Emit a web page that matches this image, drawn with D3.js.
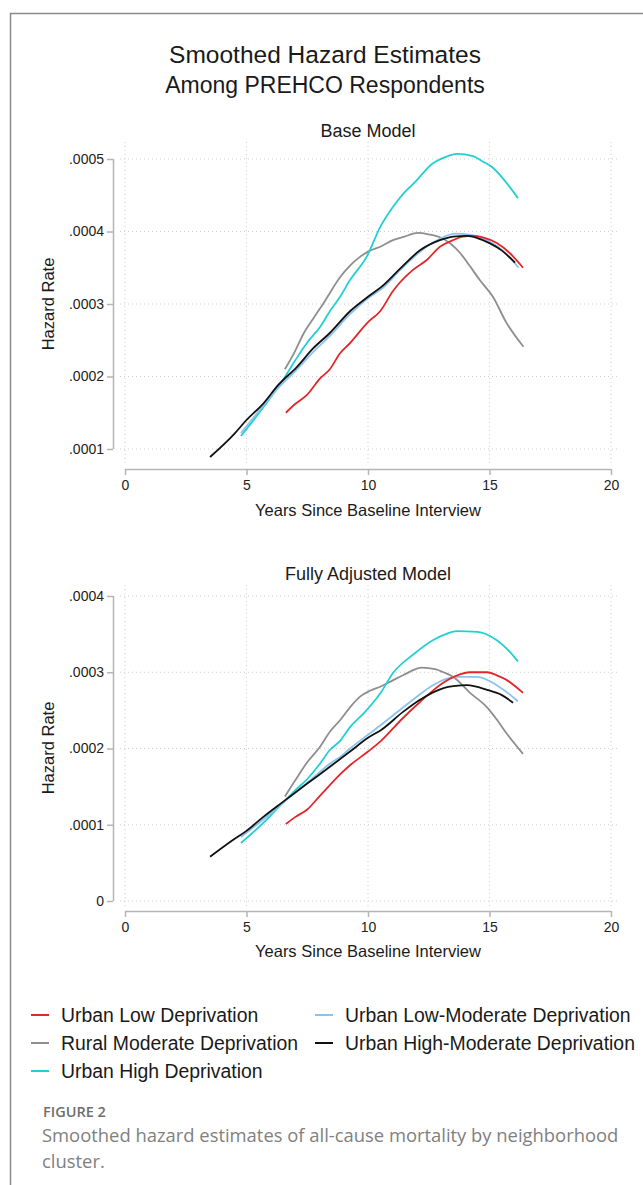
<!DOCTYPE html>
<html>
<head>
<meta charset="utf-8">
<script src="https://cdn.jsdelivr.net/npm/d3@7"></script>
<style>
html,body{margin:0;padding:0;background:#fff;}
svg{display:block;}
</style>
</head>
<body>
<script>
// ---------------- DATA ----------------
const seriesNames = ["Urban Low Deprivation","Rural Moderate Deprivation","Urban High Deprivation","Urban Low-Moderate Deprivation","Urban High-Moderate Deprivation"];
const seriesColors = ["#e3262a","#8e8e8e","#22d0d2","#8cc3ee","#111111"];
const xTicks = [0,5,10,15,20];
const yTicksBase = [0.0001,0.0002,0.0003,0.0004,0.0005];
const yTickLabelsBase = [".0001",".0002",".0003",".0004",".0005"];
const yTicksFull = [0,0.0001,0.0002,0.0003,0.0004];
const yTickLabelsFull = ["0",".0001",".0002",".0003",".0004"];

// Base model: [years, hazard]
const baseUrbanLow = [[6.62,1.50e-4],[7.0,1.62e-4],[7.5,1.75e-4],[8.02,1.97e-4],[8.43,2.10e-4],[8.85,2.32e-4],[9.26,2.46e-4],[10.0,2.75e-4],[10.5,2.90e-4],[11.03,3.18e-4],[11.85,3.47e-4],[12.43,3.61e-4],[12.96,3.79e-4],[13.5,3.88e-4],[13.9,3.93e-4],[14.3,3.94e-4],[14.73,3.92e-4],[15.3,3.84e-4],[15.84,3.70e-4],[16.38,3.50e-4]];
const baseRural = [[6.58,2.10e-4],[7.0,2.35e-4],[7.33,2.58e-4],[7.75,2.80e-4],[8.15,3.00e-4],[8.85,3.37e-4],[9.26,3.53e-4],[9.67,3.65e-4],[10.1,3.74e-4],[10.5,3.79e-4],[11.03,3.88e-4],[11.5,3.93e-4],[12.06,3.98e-4],[12.5,3.96e-4],[12.96,3.92e-4],[13.4,3.83e-4],[13.8,3.70e-4],[14.2,3.52e-4],[14.6,3.33e-4],[15.14,3.10e-4],[15.7,2.74e-4],[16.4,2.41e-4]];
const baseUrbanHigh = [[4.77,1.18e-4],[5.2,1.36e-4],[5.7,1.58e-4],[6.5,1.95e-4],[7.0,2.22e-4],[7.5,2.47e-4],[8.02,2.68e-4],[8.43,2.90e-4],[8.85,3.10e-4],[9.26,3.33e-4],[9.96,3.66e-4],[10.5,4.06e-4],[11.03,4.34e-4],[11.5,4.54e-4],[11.93,4.68e-4],[12.67,4.94e-4],[13.2,5.03e-4],[13.66,5.07e-4],[14.32,5.04e-4],[14.7,4.97e-4],[15.14,4.88e-4],[15.7,4.67e-4],[16.17,4.46e-4]];
const baseUrbanLowMod = [[4.77,1.22e-4],[5.5,1.52e-4],[6.3,1.84e-4],[7.0,2.07e-4],[7.75,2.34e-4],[8.43,2.56e-4],[9.26,2.86e-4],[10.0,3.08e-4],[10.6,3.22e-4],[11.3,3.46e-4],[12.14,3.72e-4],[12.96,3.90e-4],[13.6,3.97e-4],[14.1,3.96e-4],[14.6,3.92e-4],[15.0,3.86e-4],[15.6,3.72e-4],[16.2,3.50e-4]];
const baseUrbanHighMod = [[3.5,0.89e-4],[4.5,1.21e-4],[5.0,1.40e-4],[5.7,1.63e-4],[6.3,1.88e-4],[7.07,2.13e-4],[7.75,2.39e-4],[8.43,2.60e-4],[9.26,2.90e-4],[10.0,3.10e-4],[10.6,3.25e-4],[11.3,3.48e-4],[12.14,3.74e-4],[12.96,3.88e-4],[13.5,3.93e-4],[14.07,3.94e-4],[14.5,3.91e-4],[15.0,3.84e-4],[15.5,3.74e-4],[16.05,3.57e-4]];

// Fully adjusted model
const fullUrbanLow = [[6.62,1.01e-4],[7.0,1.10e-4],[7.5,1.20e-4],[8.02,1.38e-4],[8.43,1.52e-4],[8.85,1.66e-4],[9.26,1.78e-4],[10.0,1.96e-4],[10.5,2.09e-4],[11.44,2.40e-4],[12.14,2.61e-4],[13.08,2.86e-4],[13.6,2.95e-4],[14.2,3.00e-4],[14.9,3.00e-4],[15.3,2.96e-4],[15.7,2.90e-4],[16.38,2.73e-4]];
const fullRural = [[6.58,1.37e-4],[7.0,1.58e-4],[7.5,1.82e-4],[8.02,2.02e-4],[8.43,2.22e-4],[8.85,2.37e-4],[9.26,2.54e-4],[9.67,2.68e-4],[10.1,2.76e-4],[10.5,2.81e-4],[11.0,2.89e-4],[11.44,2.96e-4],[12.22,3.06e-4],[12.76,3.04e-4],[13.1,3.00e-4],[13.5,2.94e-4],[14.2,2.73e-4],[14.9,2.54e-4],[15.3,2.38e-4],[15.7,2.20e-4],[16.38,1.93e-4]];
const fullUrbanHigh = [[4.77,0.76e-4],[5.68,1.02e-4],[6.5,1.29e-4],[7.0,1.45e-4],[7.5,1.60e-4],[8.02,1.80e-4],[8.43,1.98e-4],[8.85,2.10e-4],[9.26,2.28e-4],[9.88,2.48e-4],[10.5,2.72e-4],[11.03,2.99e-4],[11.85,3.23e-4],[12.67,3.42e-4],[13.2,3.50e-4],[13.66,3.54e-4],[14.5,3.53e-4],[15.3,3.42e-4],[15.8,3.28e-4],[16.17,3.14e-4]];
const fullUrbanLowMod = [[4.77,0.84e-4],[5.5,1.02e-4],[6.0,1.15e-4],[6.58,1.31e-4],[7.5,1.55e-4],[8.43,1.80e-4],[8.85,1.89e-4],[9.3,2.01e-4],[10.0,2.18e-4],[10.78,2.37e-4],[11.85,2.64e-4],[12.67,2.83e-4],[13.2,2.91e-4],[13.66,2.94e-4],[14.5,2.94e-4],[15.3,2.83e-4],[16.17,2.62e-4]];
const fullUrbanHighMod = [[3.5,0.58e-4],[4.44,0.80e-4],[5.0,0.92e-4],[5.68,1.10e-4],[6.5,1.30e-4],[7.5,1.54e-4],[8.43,1.76e-4],[9.26,1.96e-4],[10.0,2.14e-4],[10.57,2.25e-4],[11.44,2.48e-4],[12.14,2.64e-4],[13.08,2.79e-4],[13.6,2.82e-4],[14.07,2.83e-4],[14.9,2.77e-4],[15.51,2.70e-4],[15.97,2.60e-4]];

const baseSeries = [baseUrbanLow, baseRural, baseUrbanHigh, baseUrbanLowMod, baseUrbanHighMod];
const fullSeries = [fullUrbanLow, fullRural, fullUrbanHigh, fullUrbanLowMod, fullUrbanHighMod];
const drawOrder = [1,2,3,0,4]; // z-order of lines

// ---------------- DRAW ----------------
const W = 643, H = 1185;
const FONT = "'Liberation Sans', Arial, sans-serif";
const svg = d3.select("body").append("svg").attr("width", W).attr("height", H)
  .style("font-family", FONT);

svg.append("rect").attr("width", W).attr("height", H).attr("fill", "#fff");
svg.append("path").attr("d", `M10.5,${H} L10.5,13.5 L${W},13.5`)
  .attr("fill", "none").attr("stroke", "#8a8a8a").attr("stroke-width", 1.5);

// main title
svg.append("text").attr("x", 325).attr("y", 63).attr("text-anchor", "middle")
  .attr("font-size", 24.5).attr("fill", "#1a1a1a").text("Smoothed Hazard Estimates");
svg.append("text").attr("x", 325).attr("y", 93).attr("text-anchor", "middle")
  .attr("font-size", 23).attr("fill", "#1a1a1a").text("Among PREHCO Respondents");

function panel(cfg) {
  const g = svg.append("g");
  const x = d3.scaleLinear().domain([0, 20]).range([125, 611]);
  const y = d3.scaleLinear().domain(cfg.yDomain).range(cfg.yRange);

  // subtitle
  g.append("text").attr("x", 368).attr("y", cfg.titleY).attr("text-anchor", "middle")
    .attr("font-size", 18).attr("fill", "#1a1a1a").text(cfg.title);

  // grid
  const grid = g.append("g").attr("stroke", "#cfcfcf").attr("stroke-width", 1)
    .attr("stroke-dasharray", "1,3");
  cfg.yTicks.forEach(v => {
    grid.append("line").attr("x1", 120).attr("x2", 618)
      .attr("y1", y(v)).attr("y2", y(v));
  });
  xTicks.forEach(v => {
    grid.append("line").attr("x1", x(v)).attr("x2", x(v))
      .attr("y1", cfg.gridTop).attr("y2", cfg.gridBottom);
  });

  // y axis
  const yAxis = d3.axisLeft(y).tickValues(cfg.yTicks)
    .tickFormat((d, i) => cfg.yTickLabels[i]).tickSize(6).tickPadding(3);
  const ya = g.append("g").attr("transform", "translate(113,0)").call(yAxis);
  ya.attr("font-family", FONT);
  ya.select(".domain").attr("stroke", "#b5b5b5").attr("stroke-width", 1.5)
    .attr("d", `M0.5,${y(cfg.yTicks[cfg.yTicks.length-1])}V${y(cfg.yTicks[0])}`);
  ya.selectAll(".tick line").attr("stroke", "#b5b5b5").attr("stroke-width", 1.5);
  ya.selectAll(".tick text").attr("font-size", 14).attr("fill", "#222");

  // x axis
  const xAxis = d3.axisBottom(x).tickValues(xTicks).tickSize(6).tickPadding(5);
  const xa = g.append("g").attr("transform", `translate(0,${cfg.xAxisY})`).call(xAxis);
  xa.attr("font-family", FONT);
  xa.select(".domain").attr("stroke", "#b5b5b5").attr("stroke-width", 1.5)
    .attr("d", `M${x(0)},0.5H${x(20)}`);
  xa.selectAll(".tick line").attr("stroke", "#b5b5b5").attr("stroke-width", 1.5);
  xa.selectAll(".tick text").attr("font-size", 14).attr("fill", "#222");

  // axis titles
  g.append("text").attr("x", 368).attr("y", cfg.xTitleY).attr("text-anchor", "middle")
    .attr("font-size", 16.5).attr("fill", "#1a1a1a").text("Years Since Baseline Interview");
  g.append("text").attr("transform", `translate(54,${cfg.yTitleY}) rotate(-90)`)
    .attr("text-anchor", "middle").attr("font-size", 16.5).attr("fill", "#1a1a1a")
    .text("Hazard Rate");

  // lines
  const line = d3.line().x(d => x(d[0])).y(d => y(d[1])).curve(d3.curveMonotoneX);
  drawOrder.forEach(i => {
    g.append("path").datum(cfg.series[i]).attr("d", line)
      .attr("fill", "none").attr("stroke", seriesColors[i]).attr("stroke-width", 1.8)
      .attr("stroke-linejoin", "round");
  });
}

panel({
  title: "Base Model", titleY: 137,
  yDomain: [0.0001, 0.0005], yRange: [449, 159],
  yTicks: yTicksBase, yTickLabels: yTickLabelsBase,
  gridTop: 142, gridBottom: 463, xAxisY: 469, xTitleY: 516, yTitleY: 304,
  series: baseSeries
});
panel({
  title: "Fully Adjusted Model", titleY: 580,
  yDomain: [0, 0.0004], yRange: [901, 596],
  yTicks: yTicksFull, yTickLabels: yTickLabelsFull,
  gridTop: 585, gridBottom: 906, xAxisY: 911, xTitleY: 957, yTitleY: 748,
  series: fullSeries
});

// legend
const legendPos = [
  {x: 31, y: 1022}, {x: 31, y: 1050}, {x: 31, y: 1078},
  {x: 315, y: 1022}, {x: 315, y: 1050}
];
seriesNames.forEach((name, i) => {
  const p = legendPos[i];
  svg.append("line").attr("x1", p.x).attr("x2", p.x + 18)
    .attr("y1", p.y - 7).attr("y2", p.y - 7)
    .attr("stroke", seriesColors[i]).attr("stroke-width", 2);
  svg.append("text").attr("x", p.x + 30).attr("y", p.y)
    .attr("font-size", 19.4).attr("fill", "#1a1a1a").text(name);
});

// caption
svg.append("text").attr("x", 43).attr("y", 1117)
  .style("font-family", "'Open Sans', sans-serif").attr("font-weight", 600)
  .attr("font-size", 14.5).attr("fill", "#6e6e6e").text("FIGURE 2");
svg.append("text").attr("x", 42).attr("y", 1142)
  .style("font-family", "'Open Sans', sans-serif").attr("font-weight", 400)
  .attr("font-size", 18.4).attr("fill", "#808080")
  .text("Smoothed hazard estimates of all-cause mortality by neighborhood");
svg.append("text").attr("x", 42).attr("y", 1168)
  .style("font-family", "'Open Sans', sans-serif").attr("font-weight", 400)
  .attr("font-size", 18.4).attr("fill", "#808080").text("cluster.");
</script>
</body>
</html>
